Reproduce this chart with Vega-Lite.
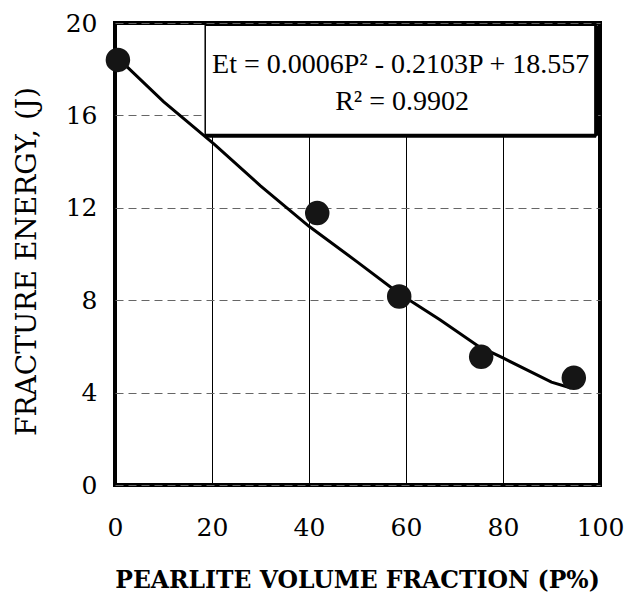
{
  "$schema": "https://vega.github.io/schema/vega-lite/v6.json",
  "width": 485,
  "height": 462,
  "autosize": {"type": "none"},
  "padding": {"left": 115, "top": 23, "right": 37, "bottom": 111},
  "background": "white",
  "config": {
    "view": {"stroke": "black", "strokeWidth": 4},
    "font": "DejaVu Serif",
    "axis": {
      "labelFont": "DejaVu Serif",
      "titleFont": "DejaVu Serif",
      "labelColor": "black",
      "titleColor": "black",
      "domain": false,
      "ticks": false,
      "tickSize": 0
    }
  },
  "datasets": {
    "points": [
      {"P": 0.6, "E": 18.4},
      {"P": 41.7, "E": 11.77},
      {"P": 58.6, "E": 8.16},
      {"P": 75.5, "E": 5.55},
      {"P": 94.6, "E": 4.64}
    ],
    "trend": [
      {"P": 2.5, "E": 18.1},
      {"P": 10, "E": 16.6},
      {"P": 20.5, "E": 14.75},
      {"P": 30, "E": 12.95},
      {"P": 40, "E": 11.2},
      {"P": 50, "E": 9.65},
      {"P": 58.5, "E": 8.3},
      {"P": 67, "E": 7.15},
      {"P": 75, "E": 6.0},
      {"P": 80, "E": 5.5},
      {"P": 90, "E": 4.45},
      {"P": 94, "E": 4.2}
    ],
    "box": [
      {"P": 18.6, "P2": 99.2, "E": 19.9, "E2": 15.12}
    ],
    "labels": [
      {"P": 58.9, "E": 18.2, "label": "Et = 0.0006P² - 0.2103P + 18.557"},
      {"P": 59.2, "E": 16.6, "label": "R² = 0.9902"}
    ]
  },
  "layer": [
    {
      "data": {"name": "trend"},
      "mark": {"type": "line", "color": "black", "strokeWidth": 3},
      "encoding": {
        "x": {
          "field": "P",
          "type": "quantitative",
          "title": "PEARLITE VOLUME FRACTION (P%)",
          "scale": {"domain": [0, 100], "nice": false},
          "axis": {
            "values": [0, 20, 40, 60, 80, 100],
            "labelFont": "DejaVu Serif",
            "labelFontSize": 25,
            "labelFlush": false,
            "labelColor": "black",
            "labelPadding": 30,
            "grid": true,
            "gridColor": "black",
            "gridWidth": 1,
            "titleFont": "DejaVu Serif",
            "titleFontSize": 23.5,
            "titleFontWeight": "bold",
            "titleColor": "black",
            "titleX": 242,
            "titleY": 95,
            "titleBaseline": "middle",
            "titleAlign": "center"
          }
        },
        "y": {
          "field": "E",
          "type": "quantitative",
          "title": "FRACTURE ENERGY, (J)",
          "scale": {"domain": [0, 20], "nice": false},
          "axis": {
            "values": [0, 4, 8, 12, 16, 20],
            "labelFont": "DejaVu Serif",
            "labelFontSize": 25,
            "labelColor": "black",
            "labelPadding": 18,
            "grid": true,
            "gridColor": "#666",
            "gridWidth": 1,
            "gridDash": [8, 5],
            "titleFont": "DejaVu Serif",
            "titleFontSize": 28,
            "titleFontWeight": "normal",
            "titleColor": "black",
            "titleAngle": -90,
            "titleX": -88,
            "titleY": 238,
            "titleBaseline": "middle",
            "titleAlign": "center"
          }
        }
      }
    },
    {
      "data": {"name": "box"},
      "mark": {"type": "rect", "fill": "white", "stroke": "black", "strokeWidth": 1.5},
      "encoding": {
        "x": {"field": "P", "type": "quantitative"},
        "x2": {"field": "P2"},
        "y": {"field": "E", "type": "quantitative"},
        "y2": {"field": "E2"}
      }
    },
    {
      "data": {"name": "box"},
      "mark": {"type": "rule", "color": "black", "strokeWidth": 4},
      "encoding": {
        "x": {"field": "P", "type": "quantitative"},
        "x2": {"field": "P2"},
        "y": {"field": "E2", "type": "quantitative"}
      }
    },
    {
      "data": {"name": "box"},
      "mark": {"type": "rule", "color": "black", "strokeWidth": 4},
      "encoding": {
        "x": {"field": "P2", "type": "quantitative"},
        "y": {"field": "E", "type": "quantitative"},
        "y2": {"field": "E2"}
      }
    },
    {
      "data": {"name": "labels"},
      "mark": {"type": "text", "font": "Liberation Serif", "fontSize": 28, "color": "black", "align": "center", "baseline": "middle"},
      "encoding": {
        "x": {"field": "P", "type": "quantitative"},
        "y": {"field": "E", "type": "quantitative"},
        "text": {"field": "label"}
      }
    },
    {
      "data": {"name": "points"},
      "mark": {"type": "point", "shape": "circle", "filled": true, "size": 600, "color": "#151515", "opacity": 1},
      "encoding": {
        "x": {"field": "P", "type": "quantitative"},
        "y": {"field": "E", "type": "quantitative"}
      }
    }
  ]
}
